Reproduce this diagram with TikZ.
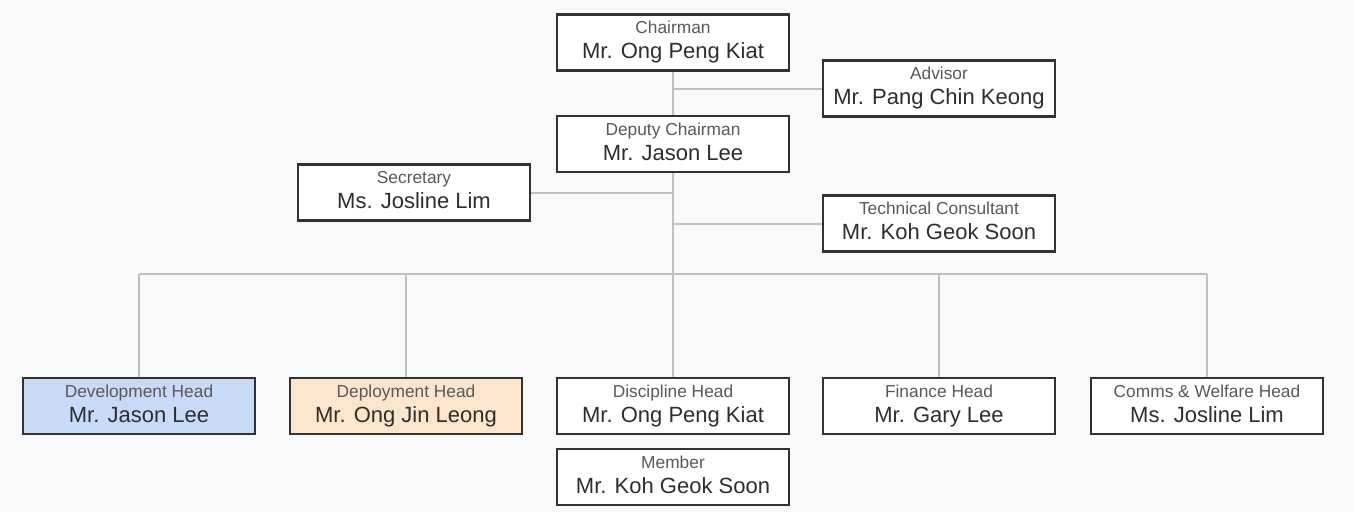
\documentclass[tikz,border=0pt]{standalone}
\usepackage{fontspec}
\setmainfont{Liberation Sans}
\usepackage{xcolor}
\usepackage{tikz}
\definecolor{devblue}{RGB}{201,218,248}
\definecolor{deppeach}{RGB}{252,229,205}
\definecolor{boxline}{RGB}{50,50,50}
\definecolor{linkgray}{RGB}{192,192,194}
\definecolor{bgtint}{RGB}{248,249,251}
\newcommand{\rolename}[2]{{\fontsize{13}{16}\selectfont\color{black!65}\strut#1}\\{\strut#2}}

\begin{document}
\begin{tikzpicture}[x=0.75pt,y=-0.75pt,
	post/.style={draw=boxline,line width=1.7pt,fill=white,text=black!82,
		minimum width=174pt,minimum height=42pt,inner sep=0pt,align=center,
		font=\fontsize{16.5}{19}\selectfont},
	link/.style={draw=linkgray,line width=1.5pt}]
	\fill[bgtint] (0,0) rectangle (1354,512);
	% top of the tree
	\node[post] (chair) at (673,42.5) {\rolename{Chairman}{Mr. Ong Peng Kiat}};
	\node[post] (advisor) at (939,88.5) {\rolename{Advisor}{Mr. Pang Chin Keong}};
	\node[post] (deputy) at (673,144) {\rolename{Deputy Chairman}{Mr. Jason Lee}};
	\node[post] (secretary) at (414,192.5) {\rolename{Secretary}{Ms. Josline Lim}};
	\node[post] (techcons) at (939,223.5) {\rolename{Technical Consultant}{Mr. Koh Geok Soon}};
	\coordinate (bus) at (673,274);
	\draw[link] (chair) -- (deputy);
	\draw[link] (advisor.west) -- (advisor.west -| chair.south);
	\draw[link] (deputy) -- (bus);
	\draw[link] (secretary.east) -- (secretary.east -| deputy.south);
	\draw[link] (techcons.west) -- (techcons.west -| deputy.south);
	% heads
	\foreach \n/\x/\c/\t/\p in {devhead/139/devblue/Development Head/Mr. Jason Lee,
		dephead/406/deppeach/Deployment Head/Mr. Ong Jin Leong,
		dischead/673/white/Discipline Head/Mr. Ong Peng Kiat,
		finhead/939/white/Finance Head/Mr. Gary Lee,
		commshead/1207/white/Comms \& Welfare Head/Ms. Josline Lim}{
		\node[post,fill=\c] (\n) at (\x,406) {\rolename{\t}{\p}};
		\draw[link] (\n.north |- bus) -- (\n.north);
	}
	\draw[link] (devhead.north |- bus) -- (commshead.north |- bus);
	\node[post] (member) at (673,477) {\rolename{Member}{Mr. Koh Geok Soon}};
\end{tikzpicture}
\end{document}
